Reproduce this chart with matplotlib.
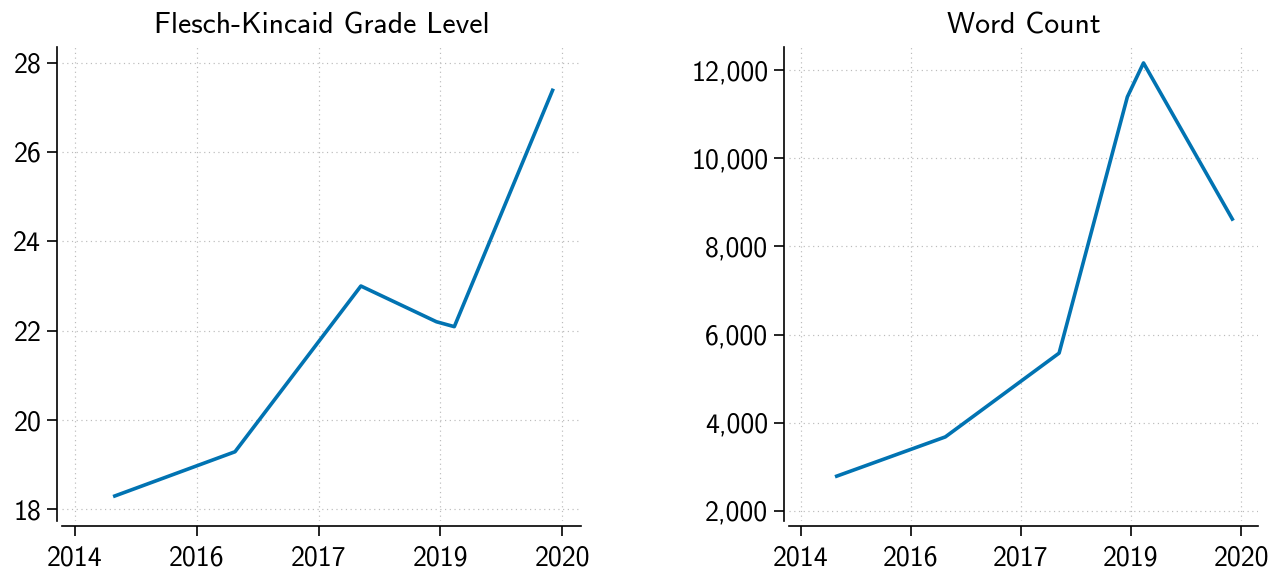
import numpy as np
import matplotlib
matplotlib.use("Agg")
import matplotlib.pyplot as plt
from matplotlib.ticker import FuncFormatter

plt.rcParams['font.family'] = ['cmss10', 'DejaVu Sans']
plt.rcParams['axes.formatter.use_mathtext'] = True

# decimal years of each release
years = [2014.99, 2016.47, 2018.02, 2018.95, 2019.17, 2020.38]
grade_level = [18.30, 19.29, 23.0, 22.2, 22.09, 27.38]
word_count = [2790, 3680, 5580, 11390, 12160, 8620]

tick_pos = [2014.5, 2016.0, 2017.5, 2019.0, 2020.5]
tick_labels = ["2014", "2016", "2017", "2019", "2020"]

blue = "#0173B2"
W, H = 1272, 575
fig = plt.figure(figsize=(W / 100, H / 100), dpi=100)


def style(ax, ylim, yticks, fmt=None):
    ax.set_xlim(2014.34, 2020.73)
    ax.set_ylim(*ylim)
    ax.set_xticks(tick_pos)
    ax.set_xticklabels(tick_labels)
    ax.set_yticks(yticks)
    if fmt is not None:
        ax.yaxis.set_major_formatter(FuncFormatter(fmt))
    for s in ["top", "right"]:
        ax.spines[s].set_visible(False)
    for s in ["left", "bottom"]:
        ax.spines[s].set_position(("outward", 3.8))
        ax.spines[s].set_linewidth(1.2)
    ax.tick_params(labelsize=20, length=7, width=1.2, direction="out")
    ax.tick_params(axis="x", pad=7)
    ax.tick_params(axis="y", pad=4)
    ax.grid(True, linestyle=(0, (1, 3)), color="#bbbbbb", linewidth=0.85)
    ax.set_axisbelow(True)


ax1 = fig.add_axes([62 / W, (H - 521) / H, (581 - 62) / W, (521 - 47) / H])
ax1.plot(years, grade_level, color=blue, lw=2.6)
ax1.set_title("Flesch-Kincaid Grade Level", fontsize=21.4, pad=10)
style(ax1, (17.74, 28.35), [18, 20, 22, 24, 26, 28])

ax2 = fig.add_axes([789 / W, (H - 521) / H, (1258 - 789) / W, (521 - 47) / H])
ax2.plot(years, word_count, color=blue, lw=2.6)
ax2.set_title("Word Count", fontsize=21.4, pad=10)
style(ax2, (1773, 12522), [2000, 4000, 6000, 8000, 10000, 12000],
      lambda v, p: "{:,.0f}".format(v))

fig.savefig("out.png", dpi=100)
